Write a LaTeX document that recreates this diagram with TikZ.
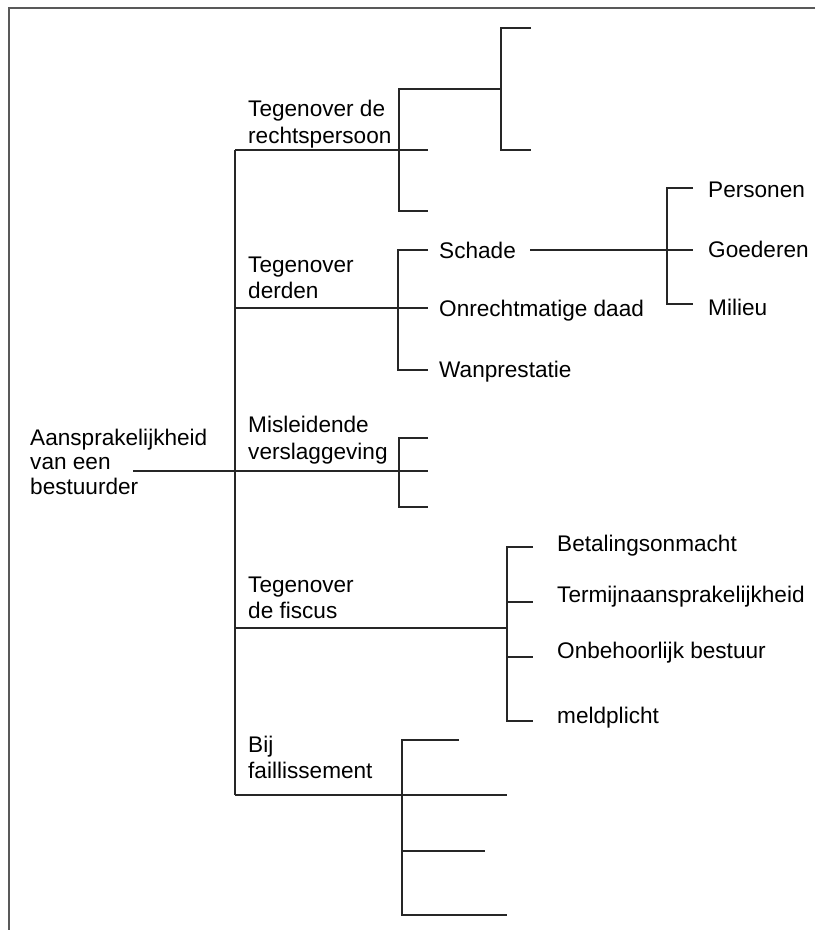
\documentclass[tikz,border=0pt]{standalone}
\usepackage{fontspec}
\setmainfont{Liberation Sans}
\begin{document}
\begin{tikzpicture}[x=1pt,y=-1pt]
\tikzset{
  lbl/.style={anchor=base west, inner sep=0pt, font=\fontsize{22.6}{27}\selectfont},
  tree/.style={line width=1.4pt, draw=black!85},
  frameline/.style={line width=2pt, draw=black!65},
}
\useasboundingbox (0,0) rectangle (815,930);

% page frame (top and left edges)
\coordinate (fTR) at (815,7.5);
\coordinate (fTL) at (9.3,7.5);
\coordinate (fBL) at (9.3,930);
\draw[frameline] (fTR) -- (fTL) -- (fBL);

% root
\node[lbl] (root1) at (30,445) {Aansprakelijkheid};
\node[lbl] (root2) at (30,469) {van een};
\node[lbl] (root3) at (30,494) {bestuurder};
\coordinate (rootEnd) at (133,471);

% main spine
\coordinate (spTop) at (235,150);
\coordinate (spBot) at (235,795);
\draw[tree] (spTop) -- (spBot);

% --- branch 1: Tegenover de rechtspersoon
\node[lbl] (rp1) at (248,116) {Tegenover de};
\node[lbl] (rp2) at (248,143) {rechtspersoon};
\coordinate (e1) at (428,150);
\draw[tree] (spTop) -- (e1);
\coordinate (k1t) at (399,89);
\coordinate (k1b) at (399,211);
\coordinate (k1be) at (428,211);
\coordinate (m1) at (501,89);
\draw[tree] (m1) -- (k1t) -- (k1b) -- (k1be);
\coordinate (m1t) at (501,28);
\coordinate (m1b) at (501,150);
\coordinate (m1te) at (531,28);
\coordinate (m1be) at (531,150);
\draw[tree] (m1te) -- (m1t) -- (m1b) -- (m1be);

% --- branch 2: Tegenover derden
\node[lbl] (dd1) at (248,272) {Tegenover};
\node[lbl] (dd2) at (248,298) {derden};
\coordinate (j2) at (235,308);
\coordinate (e2) at (428,308);
\draw[tree] (j2) -- (e2);
\coordinate (k2t) at (398,250);
\coordinate (k2b) at (398,370);
\coordinate (k2te) at (428,250);
\coordinate (k2be) at (428,370);
\draw[tree] (k2te) -- (k2t) -- (k2b) -- (k2be);
\node[lbl] (schade) at (439,258) {Schade};
\node[lbl] (onr) at (439,316) {Onrechtmatige daad};
\node[lbl] (wan) at (439,377) {Wanprestatie};
% Schade subdivision
\coordinate (s1) at (530,250);
\coordinate (s2) at (693,250);
\draw[tree] (s1) -- (s2);
\coordinate (p1) at (667,188);
\coordinate (p2) at (667,304);
\coordinate (p1e) at (693,188);
\coordinate (p2e) at (693,304);
\draw[tree] (p1e) -- (p1) -- (p2) -- (p2e);
\node[lbl] (pers) at (708,197) {Personen};
\node[lbl] (goed) at (708,257) {Goederen};
\node[lbl] (mil) at (708,315) {Milieu};

% --- branch 3: Misleidende verslaggeving
\node[lbl] (ms1) at (248,432) {Misleidende};
\node[lbl] (ms2) at (248,459) {verslaggeving};
\coordinate (e3) at (428,471);
\draw[tree] (rootEnd) -- (e3);
\coordinate (k3t) at (399,438);
\coordinate (k3b) at (399,507);
\coordinate (k3te) at (428,438);
\coordinate (k3be) at (428,507);
\draw[tree] (k3te) -- (k3t) -- (k3b) -- (k3be);

% --- branch 4: Tegenover de fiscus
\node[lbl] (fc1) at (248,592) {Tegenover};
\node[lbl] (fc2) at (248,618) {de fiscus};
\coordinate (j4) at (235,628);
\coordinate (k4m) at (507,628);
\draw[tree] (j4) -- (k4m);
\coordinate (k4a) at (507,547);
\coordinate (k4b) at (507,602);
\coordinate (k4c) at (507,657);
\coordinate (k4d) at (507,721);
\coordinate (k4ae) at (533,547);
\coordinate (k4be) at (533,602);
\coordinate (k4ce) at (533,657);
\coordinate (k4de) at (533,721);
\draw[tree] (k4ae) -- (k4a) -- (k4d) -- (k4de);
\draw[tree] (k4b) -- (k4be);
\draw[tree] (k4c) -- (k4ce);
\node[lbl] (bet) at (557,551) {Betalingsonmacht};
\node[lbl] (term) at (557,602) {Termijnaansprakelijkheid};
\node[lbl] (onb) at (557,658) {Onbehoorlijk bestuur};
\node[lbl] (meld) at (557,723) {meldplicht};

% --- branch 5: Bij faillissement
\node[lbl] (bf1) at (248,752) {Bij};
\node[lbl] (bf2) at (248,778) {faillissement};
\coordinate (e5) at (507,795);
\draw[tree] (spBot) -- (e5);
\coordinate (k5t) at (402,740);
\coordinate (k5c) at (402,851);
\coordinate (k5b) at (402,915);
\coordinate (k5te) at (459,740);
\coordinate (k5ce) at (485,851);
\coordinate (k5be) at (507,915);
\draw[tree] (k5te) -- (k5t) -- (k5b) -- (k5be);
\draw[tree] (k5c) -- (k5ce);
\end{tikzpicture}
\end{document}
